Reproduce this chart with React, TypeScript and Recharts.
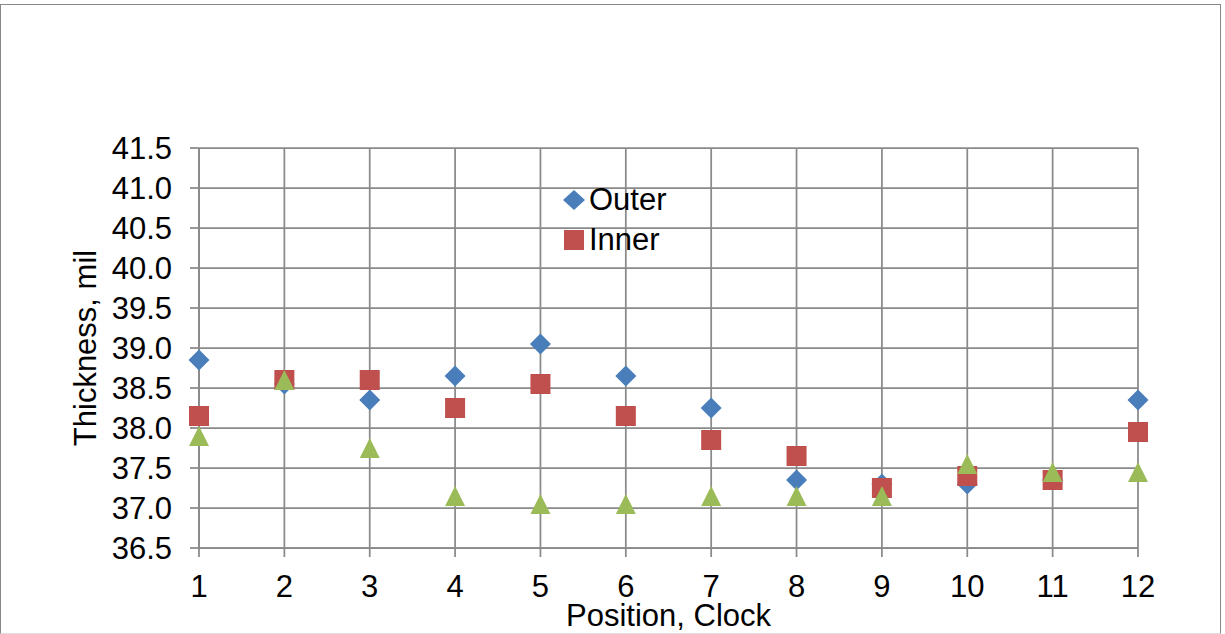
import {
  ScatterChart,
  Scatter,
  XAxis,
  YAxis,
  CartesianGrid,
  Legend,
  Label,
} from 'recharts';

const positions = [1, 2, 3, 4, 5, 6, 7, 8, 9, 10, 11, 12];
const outer = [38.85, 38.55, 38.35, 38.65, 39.05, 38.65, 38.25, 37.35, 37.3, 37.3, 37.35, 38.35];
const inner = [38.15, 38.6, 38.6, 38.25, 38.55, 38.15, 37.85, 37.65, 37.25, 37.4, 37.35, 37.95];
const third = [37.9, 38.6, 37.75, 37.15, 37.05, 37.05, 37.15, 37.15, 37.15, 37.55, 37.45, 37.45];
const yTicks = [36.5, 37, 37.5, 38, 38.5, 39, 39.5, 40, 40.5, 41, 41.5];

const toPoints = (vals: number[]) => positions.map((x, i) => ({ x, y: vals[i] }));

const BLUE = '#4a7ebb';
const RED = '#c0504d';
const GREEN = '#9bbb59';
const GRID = '#8a8a8a';
const FONT = '"Liberation Sans", Arial, sans-serif';

const Diamond = ({ cx, cy }: any) => (
  <path d={`M${cx},${cy - 10.5}L${cx + 10.5},${cy}L${cx},${cy + 10.5}L${cx - 10.5},${cy}Z`} fill={BLUE} />
);

const Square = ({ cx, cy }: any) => (
  <rect x={cx - 10} y={cy - 10} width={20} height={20} fill={RED} />
);

const Triangle = ({ cx, cy }: any) => (
  <path d={`M${cx},${cy - 10}L${cx + 10},${cy + 10}L${cx - 10},${cy + 10}Z`} fill={GREEN} />
);

// only the first two series have legend entries
const renderLegend = () => (
  <div style={{ fontFamily: FONT, fontSize: 31, color: '#000', lineHeight: '40px' }}>
    <div style={{ display: 'flex', alignItems: 'center' }}>
      <svg width={28} height={24}>
        <path d="M13,2L24,12L13,22L2,12Z" fill={BLUE} />
      </svg>
      <span>Outer</span>
    </div>
    <div style={{ display: 'flex', alignItems: 'center' }}>
      <svg width={28} height={24}>
        <rect x={3} y={2} width={20} height={20} fill={RED} />
      </svg>
      <span>Inner</span>
    </div>
  </div>
);

const tickStyle = { fontFamily: FONT, fontSize: 31, fill: '#000' };

export default function App() {
  return (
    <div style={{ position: 'absolute', left: 0, top: 0, width: 1225, height: 634, background: '#fff' }}>
      <div
        style={{
          position: 'absolute',
          left: 0,
          top: 4,
          width: 1219,
          height: 628,
          border: '1px solid #888',
          borderBottomColor: '#ddd',
        }}
      />
      <div style={{ position: 'absolute', left: 0, top: 0 }}>
        <ScatterChart width={1225} height={634} margin={{ top: 148, right: 87, bottom: 0, left: 0 }}>
          <CartesianGrid stroke={GRID} strokeWidth={1.75} />
          <XAxis
            type="number"
            dataKey="x"
            domain={[1, 12]}
            ticks={positions}
            interval={0}
            height={86}
            stroke={GRID}
            strokeWidth={1.75}
            tickSize={9}
            tickMargin={18}
            tick={tickStyle}
          >
            <Label value="Position, Clock" position="insideBottom" offset={8} style={tickStyle} />
          </XAxis>
          <YAxis
            type="number"
            dataKey="y"
            domain={[36.5, 41.5]}
            ticks={yTicks}
            interval={0}
            width={199}
            stroke={GRID}
            strokeWidth={1.75}
            tickSize={9}
            tickMargin={18}
            tick={tickStyle}
            tickFormatter={(v: number) => v.toFixed(1)}
          >
            <Label
              value="Thickness, mil"
              angle={-90}
              position="insideLeft"
              offset={85}
              style={{ ...tickStyle, textAnchor: 'middle' }}
            />
          </YAxis>
          <Legend
            content={renderLegend}
            layout="vertical"
            verticalAlign="middle"
            align="center"
            wrapperStyle={{ top: 180, left: 561, width: 140 }}
          />
          <Scatter name="Outer" data={toPoints(outer)} shape={<Diamond />} isAnimationActive={false} />
          <Scatter name="Inner" data={toPoints(inner)} shape={<Square />} isAnimationActive={false} />
          <Scatter name="Series3" data={toPoints(third)} shape={<Triangle />} isAnimationActive={false} />
        </ScatterChart>
      </div>
    </div>
  );
}
